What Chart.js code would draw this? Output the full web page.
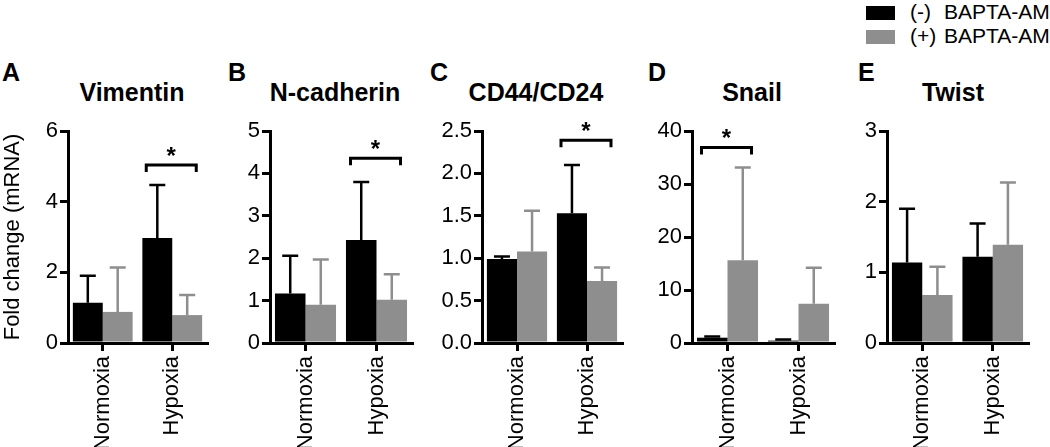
<!DOCTYPE html>
<html>
<head>
<meta charset="utf-8">
<script src="https://cdn.jsdelivr.net/npm/chart.js@4/dist/chart.umd.min.js"></script>
<style>
  body { margin: 0; background: #fff; }
  #page { position: relative; width: 1050px; height: 447px; overflow: hidden; font-family: 'Liberation Sans', Arial, sans-serif; color: #000; }
  .panel { position: absolute; top: 0; }
  .letter { position: absolute; top: 60px; font-size: 25px; font-weight: bold; line-height: 1; }
  .title { position: absolute; top: 80px; font-size: 25px; font-weight: bold; line-height: 1; transform: translateX(-50%); white-space: nowrap; }
  .legend { position: absolute; left: 866px; font-size: 21px; line-height: 22px; white-space: nowrap; }
  .legend .box { display: inline-block; width: 29px; height: 14px; vertical-align: -1px; margin-right: 15px; }
  .legend .sign { display: inline-block; width: 34px; }
</style>
</head>
<body>
<div id="page">
  <div class="legend" style="top:1px"><span class="box" style="background:#000"></span><span class="sign">(-)</span>BAPTA-AM</div>
  <div class="legend" style="top:25px"><span class="box" style="background:#8e8e8e"></span><span class="sign">(+)</span>BAPTA-AM</div>
</div>
<script>
// --- Data ---
const categories = ['Normoxia', 'Hypoxia'];
const seriesNames = ['(-) BAPTA-AM', '(+) BAPTA-AM'];
const panelLetters = ['A', 'B', 'C', 'D', 'E'];
const panelTitles = ['Vimentin', 'N-cadherin', 'CD44/CD24', 'Snail', 'Twist'];

const vimentinMinus = [1.14, 2.97];
const vimentinMinusErr = [0.76, 1.5];
const vimentinPlus = [0.88, 0.79];
const vimentinPlusErr = [1.26, 0.57];

const ncadMinus = [1.17, 2.43];
const ncadMinusErr = [0.89, 1.37];
const ncadPlus = [0.9, 1.02];
const ncadPlusErr = [1.07, 0.6];

const cd44Minus = [0.99, 1.53];
const cd44MinusErr = [0.03, 0.57];
const cd44Plus = [1.08, 0.73];
const cd44PlusErr = [0.48, 0.16];

const snailMinus = [1.0, 0.45];
const snailMinusErr = [0.25, 0.2];
const snailPlus = [15.6, 7.4];
const snailPlusErr = [17.5, 6.8];

const twistMinus = [1.14, 1.22];
const twistMinusErr = [0.76, 0.47];
const twistPlus = [0.68, 1.39];
const twistPlusErr = [0.4, 0.88];

const yTicksA = [0, 2, 4, 6];
const yTicksB = [0, 1, 2, 3, 4, 5];
const yTicksC = [0, 0.5, 1.0, 1.5, 2.0, 2.5];
const yTicksD = [0, 10, 20, 30, 40];
const yTicksE = [0, 1, 2, 3];

// significance brackets: [category index, level], null if none
const sigA = [1, 5.04];
const sigB = [1, 4.36];
const sigC = [1, 2.39];
const sigD = [0, 36.9];
const sigE = null;

const yAxisTitle = 'Fold change (mRNA)';

// --- Layout ---
const BLACK = '#000';
const GREY = '#8e8e8e';
const FONT = "'Liberation Sans', Arial, sans-serif";
Chart.defaults.font.family = FONT;
Chart.defaults.color = '#000';

const panels = [
  { minus: vimentinMinus, minusErr: vimentinMinusErr, plus: vimentinPlus, plusErr: vimentinPlusErr, ticks: yTicksA, dec: 0, sig: sigA,
    left: 0, yw: 68, plotW: 139, titleX: 132, letterX: 2, yTitle: true },
  { minus: ncadMinus, minusErr: ncadMinusErr, plus: ncadPlus, plusErr: ncadPlusErr, ticks: yTicksB, dec: 0, sig: sigB,
    left: 210, yw: 60, plotW: 142, titleX: 335, letterX: 228 },
  { minus: cd44Minus, minusErr: cd44MinusErr, plus: cd44Plus, plusErr: cd44PlusErr, ticks: yTicksC, dec: 1, sig: sigC,
    left: 422, yw: 60, plotW: 140, titleX: 536, letterX: 430 },
  { minus: snailMinus, minusErr: snailMinusErr, plus: snailPlus, plusErr: snailPlusErr, ticks: yTicksD, dec: 0, sig: sigD,
    left: 632, yw: 60, plotW: 142, titleX: 752, letterX: 648 },
  { minus: twistMinus, minusErr: twistMinusErr, plus: twistPlus, plusErr: twistPlusErr, ticks: yTicksE, dec: 0, sig: sigE,
    left: 827, yw: 60, plotW: 141, titleX: 953, letterX: 858 }
];

const PLOT_TOP = 131;
const PLOT_BOTTOM = 343;
const H = 447;
const RIGHT_PAD = 8;
const AXIS_W = 3;
const LABEL_SIZE = 22;

// upper error bars with caps
const errorBars = {
  id: 'errorBars',
  afterDatasetsDraw(chart) {
    const ctx = chart.ctx;
    const y = chart.scales.y;
    chart.data.datasets.forEach((ds, i) => {
      chart.getDatasetMeta(i).data.forEach((bar, j) => {
        const top = y.getPixelForValue(ds.data[j] + ds.errors[j]);
        ctx.save();
        ctx.strokeStyle = ds.backgroundColor;
        ctx.lineWidth = 2.5;
        ctx.beginPath();
        ctx.moveTo(bar.x, bar.y);
        ctx.lineTo(bar.x, top);
        ctx.moveTo(bar.x - 8, top);
        ctx.lineTo(bar.x + 8, top);
        ctx.stroke();
        ctx.restore();
      });
    });
  }
};

// significance bracket with asterisk
const sigBracket = {
  id: 'sigBracket',
  afterDraw(chart, args, opts) {
    if (!opts.pair) return;
    const [idx, level] = opts.pair;
    const ctx = chart.ctx;
    const cx = chart.scales.x.getPixelForValue(idx);
    const by = chart.scales.y.getPixelForValue(level);
    ctx.save();
    ctx.strokeStyle = '#000';
    ctx.lineWidth = AXIS_W;
    ctx.beginPath();
    ctx.moveTo(cx - 26, by + 7);
    ctx.lineTo(cx - 26, by);
    ctx.lineTo(cx + 24, by);
    ctx.lineTo(cx + 24, by + 7);
    ctx.stroke();
    ctx.fillStyle = '#000';
    ctx.font = 'bold 24px ' + FONT;
    ctx.textAlign = 'center';
    ctx.textBaseline = 'alphabetic';
    ctx.fillText('*', cx - 1, by - 1);
    ctx.restore();
  }
};

const page = document.getElementById('page');

panels.forEach((p, k) => {
  const letter = document.createElement('div');
  letter.className = 'letter';
  letter.style.left = p.letterX + 'px';
  letter.textContent = panelLetters[k];
  page.appendChild(letter);

  const title = document.createElement('div');
  title.className = 'title';
  title.style.left = p.titleX + 'px';
  title.textContent = panelTitles[k];
  page.appendChild(title);

  const w = p.yw + p.plotW + RIGHT_PAD;
  const wrap = document.createElement('div');
  wrap.className = 'panel';
  wrap.style.left = p.left + 'px';
  wrap.style.width = w + 'px';
  wrap.style.height = H + 'px';
  const canvas = document.createElement('canvas');
  canvas.width = w;
  canvas.height = H;
  canvas.style.width = w + 'px';
  canvas.style.height = H + 'px';
  wrap.appendChild(canvas);
  page.appendChild(wrap);

  new Chart(canvas.getContext('2d'), {
    type: 'bar',
    data: {
      labels: categories,
      datasets: [
        { label: seriesNames[0], data: p.minus, errors: p.minusErr, backgroundColor: BLACK,
          categoryPercentage: 0.86, barPercentage: 1.0 },
        { label: seriesNames[1], data: p.plus, errors: p.plusErr, backgroundColor: GREY,
          categoryPercentage: 0.86, barPercentage: 1.0 }
      ]
    },
    options: {
      responsive: false,
      animation: false,
      events: [],
      layout: { padding: { top: PLOT_TOP, right: RIGHT_PAD, left: 0, bottom: 0 } },
      plugins: {
        legend: { display: false },
        tooltip: { enabled: false },
        sigBracket: { pair: p.sig }
      },
      scales: {
        x: {
          offset: true,
          border: { display: true, color: '#000', width: AXIS_W },
          grid: { offset: false, drawOnChartArea: false, drawTicks: true, tickLength: 8, color: '#000', lineWidth: AXIS_W },
          ticks: { minRotation: 90, maxRotation: 90, padding: 5, font: { size: LABEL_SIZE }, color: '#000' },
          afterFit(scale) { scale.height = H - PLOT_BOTTOM; }
        },
        y: {
          min: p.ticks[0],
          max: p.ticks[p.ticks.length - 1],
          border: { display: true, color: '#000', width: AXIS_W },
          grid: { drawOnChartArea: false, drawTicks: true, tickLength: 8, color: '#000', lineWidth: AXIS_W },
          ticks: { padding: 2, font: { size: LABEL_SIZE }, color: '#000',
                   callback: v => Number(v).toFixed(p.dec) },
          afterBuildTicks(scale) { scale.ticks = p.ticks.map(v => ({ value: v })); },
          title: { display: !!p.yTitle, text: yAxisTitle, font: { size: LABEL_SIZE }, color: '#000', padding: 0 },
          afterFit(scale) { scale.width = p.yw; }
        }
      }
    },
    plugins: [errorBars, sigBracket]
  });
});
</script>
</body>
</html>
